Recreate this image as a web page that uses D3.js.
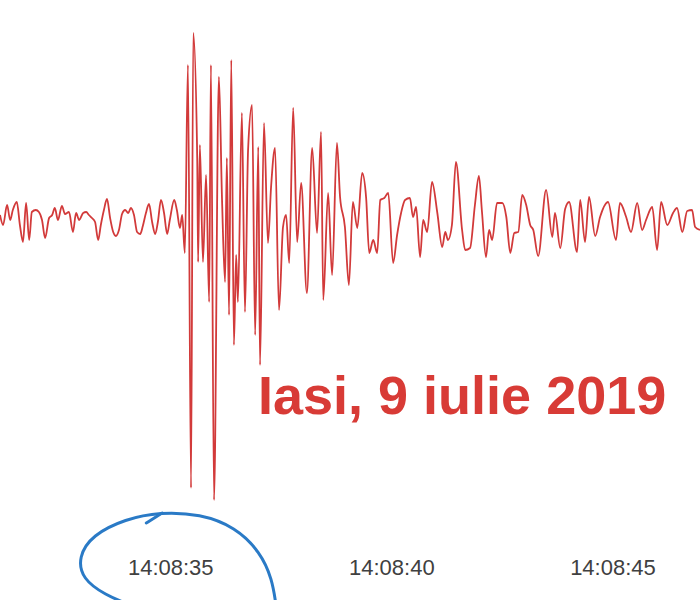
<!DOCTYPE html>
<html>
<head>
<meta charset="utf-8">
<script src="https://cdn.jsdelivr.net/npm/d3@7"></script>
<style>
  body { margin: 0; background: #fff; }
  svg { display: block; }
</style>
</head>
<body>
<div id="chart"></div>
<script>
// seconds after 14:08:00 (peaks and troughs)
var seconds = [
  31.15, 31.22, 31.31, 31.38, 31.44, 31.53, 31.60, 31.67, 31.74, 31.81,
  31.87, 31.96, 32.03, 32.10, 32.17, 32.26, 32.33, 32.39, 32.46, 32.55,
  32.62, 32.71, 32.80, 32.87, 32.94, 33.03, 33.10, 33.16, 33.23, 33.30,
  33.37, 33.43, 33.50, 33.57, 33.64, 33.71, 33.77, 33.84, 33.91, 33.98,
  34.05, 34.11, 34.18, 34.25, 34.32, 34.38, 34.45, 34.52, 34.59, 34.66,
  34.72, 34.79, 34.86, 34.93, 34.99, 35.09, 35.15, 35.22, 35.27,
  35.33, 35.40, 35.47, 35.52, 35.61, 35.63, 35.67, 35.74, 35.81, 35.88,
  35.92, 35.99, 36.10, 36.17, 36.24, 36.28, 36.33, 36.38, 36.44, 36.49,
  36.53, 36.62, 36.69, 36.76, 36.85, 36.92, 36.99, 37.03, 37.12, 37.21,
  37.28, 37.37, 37.46, 37.55, 37.62, 37.69, 37.78, 37.87, 37.96, 38.09,
  38.21, 38.32, 38.41, 38.46, 38.57, 38.66, 38.77, 38.84, 38.95, 39.04,
  39.13, 39.23, 39.34, 39.43, 39.50, 39.59, 39.68, 39.75, 39.84, 39.93,
  40.04, 40.13, 40.22, 40.31, 40.42, 40.49, 40.56, 40.65, 40.72, 40.81,
  40.92, 41.04, 41.15, 41.22, 41.28, 41.37, 41.46, 41.60, 41.67, 41.78,
  41.89, 41.98, 42.05, 42.14, 42.21, 42.28, 42.39, 42.51, 42.60, 42.69,
  42.78, 42.87, 42.96, 43.05, 43.14, 43.21, 43.32, 43.50, 43.64, 43.70,
  43.82, 43.93, 44.02, 44.20, 44.27, 44.38, 44.47, 44.61, 44.72, 44.90,
  45.08, 45.17, 45.31, 45.42, 45.56, 45.67, 45.76, 45.90, 46.01, 46.10,
  46.24, 46.37, 46.46, 46.58, 46.69, 46.80, 46.87, 46.98
];

// ground motion, arbitrary units (0 = rest)
var amplitude = [
  -3, -13, 7, -8, 2, 10, -13, -30, 9, -28,
  0, 2, 0, -8, -26, -6, -3, 4, -8, 6,
  -2, 0, -20, -1, -8, -1, 0, -3, -6, -10,
  -28, -13, 2, 13, -6, -20, -24, -18, -2, 2,
  -1, 4, -3, -20, -22, -14, -1, 8, -10, -22,
  -10, 12, -1, -22, -8, 12, 2, -16, -3,
  -41, 147, -276, 179, 54, -50, 67, -50, 37, -90,
  147, -288, 135, 14, -70, 54, -103, 152, -133, -43,
  -90, 99, -100, 62, 107, -123, 65, -153, 89, -31,
  25, 64, -98, -15, -3, -51, 104, -30, 29, -81,
  64, -21, 80, -88, 19, -63, 69, 15, -15, -73,
  10, -16, 39, 14, -41, -28, -41, 12, 14, 19,
  -51, -23, -1, 12, 14, -5, 5, -45, -8, -20,
  30, -1, -35, -20, -28, -13, 50, -18, -38, -36,
  7, 36, 0, -45, -18, -28, 9, 9, -5, -41,
  -21, -20, 17, 7, -13, -18, -44, 22, -25, -1,
  -36, 3, 10, -40, 12, -30, 15, -24, -5, 10,
  -28, 9, -5, -20, 9, -18, -8, 5, -38, 10,
  -13, -1, 4, -20, 1, 2, -15, -18
];

var tickSeconds = [35, 40, 45];
var label = "Iasi, 9 iulie 2019";

function init() {
    var w = 700;
    var h = 600;

    function toDate(s) {
        return new Date(2019, 6, 9, 14, 8, 0, Math.round(s * 1000));
    }

    var data = seconds.map(function(s, i) {
        return { t: toDate(s), v: amplitude[i] };
    });

    var xScale = d3.scaleTime()
                   .domain([toDate(31.15), toDate(46.98)])
                   .range([0, w]);

    var yScale = d3.scaleLinear()
                   .domain([-290, 190])
                   .range([502, 22]);

    var svg = d3.select("#chart")
                .append("svg")
                .attr("width", w)
                .attr("height", h);

    svg.append("rect")
       .attr("width", w)
       .attr("height", h)
       .attr("fill", "#fff");

    var line = d3.line()
                 .x(function(d) { return xScale(d.t); })
                 .y(function(d) { return yScale(d.v); })
                 .curve(d3.curveMonotoneX);

    svg.append("path")
       .datum(data)
       .attr("d", line)
       .attr("fill", "none")
       .attr("stroke", "#d23a3a")
       .attr("stroke-width", 1.8)
       .attr("stroke-linejoin", "round");

    // time labels only, no axis line
    var axis = d3.axisBottom(xScale)
                 .tickValues(tickSeconds.map(toDate))
                 .tickFormat(d3.timeFormat("%H:%M:%S"))
                 .tickSize(0)
                 .tickPadding(3);

    var gx = svg.append("g")
                .attr("transform", "translate(0,556)")
                .call(axis);
    gx.select(".domain").remove();
    gx.selectAll("text")
      .attr("font-family", "Liberation Sans, Arial, sans-serif")
      .attr("font-size", 22)
      .attr("fill", "#404040");

    // place caption
    svg.append("text")
       .attr("x", 258)
       .attr("y", 414)
       .attr("font-family", "Liberation Sans, Arial, sans-serif")
       .attr("font-weight", "bold")
       .attr("font-size", 54)
       .attr("fill", "#d83b36")
       .text(label);

    // hand-drawn blue loop around the first time label
    var cx = xScale(toDate(tickSeconds[0]));
    var cy = 567;
    var loop = [
        [-40, 38], [-65, 28], [-88, 12], [-92, -10], [-78, -32], [-45, -48],
        [-10, -55], [30, -53], [65, -40], [90, -15], [102, 12], [106, 40]
    ];
    var hook = [[-24, -44], [-16, -49], [-8, -54]];
    var pen = d3.line()
                .x(function(d) { return cx + d[0]; })
                .y(function(d) { return cy + d[1]; })
                .curve(d3.curveBasis);

    svg.append("path")
       .attr("d", pen(loop))
       .attr("fill", "none")
       .attr("stroke", "#2a7ac6")
       .attr("stroke-width", 3)
       .attr("stroke-linecap", "round");
    svg.append("path")
       .attr("d", pen(hook))
       .attr("fill", "none")
       .attr("stroke", "#2a7ac6")
       .attr("stroke-width", 3)
       .attr("stroke-linecap", "round");
}

window.onload = init;
</script>
</body>
</html>
